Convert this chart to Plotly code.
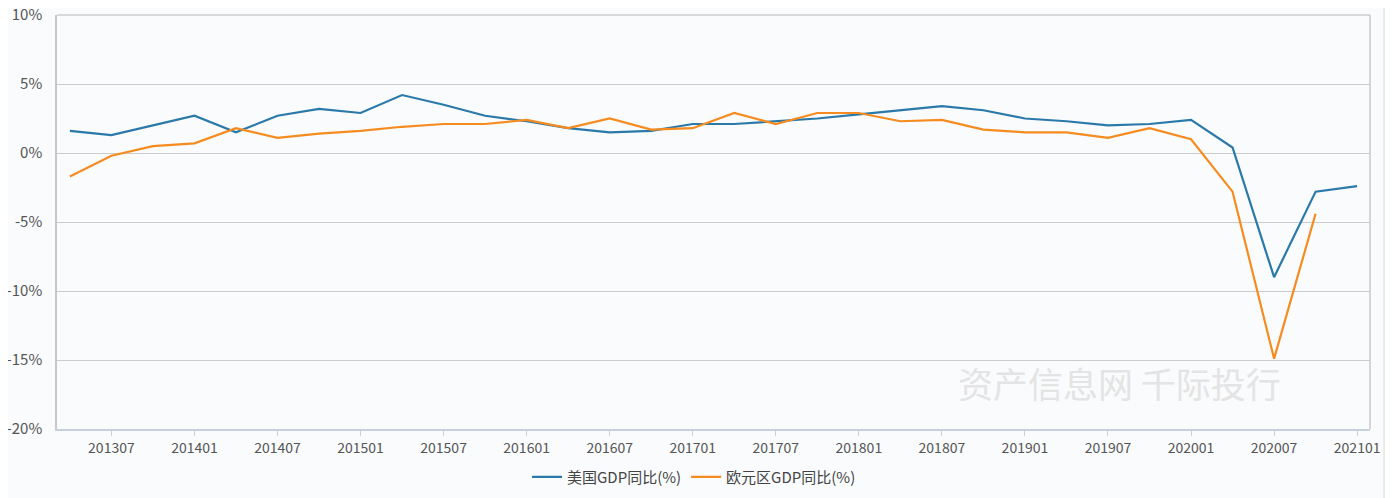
import plotly.graph_objects as go

quarters = ["201304", "201307", "201310", "201401", "201404", "201407", "201410",
            "201501", "201504", "201507", "201510", "201601", "201604", "201607",
            "201610", "201701", "201704", "201707", "201710", "201801", "201804",
            "201807", "201810", "201901", "201904", "201907", "201910", "202001",
            "202004", "202007", "202010", "202101"]

us_gdp_yoy = [1.6, 1.3, 2.0, 2.7, 1.5, 2.7, 3.2, 2.9, 4.2, 3.5, 2.7, 2.3, 1.8, 1.5,
              1.6, 2.1, 2.1, 2.3, 2.5, 2.8, 3.1, 3.4, 3.1, 2.5, 2.3, 2.0, 2.1, 2.4,
              0.4, -9.0, -2.8, -2.4]

ez_gdp_yoy = [-1.7, -0.2, 0.5, 0.7, 1.8, 1.1, 1.4, 1.6, 1.9, 2.1, 2.1, 2.4, 1.8, 2.5,
              1.7, 1.8, 2.9, 2.1, 2.9, 2.9, 2.3, 2.4, 1.7, 1.5, 1.5, 1.1, 1.8, 1.0,
              -2.8, -14.9, -4.4, None]

tick_labels = quarters[1::2]
y_ticks = [-20, -15, -10, -5, 0, 5, 10]
y_tick_text = [f"{v}%" for v in y_ticks]

FONT = "Noto Sans CJK SC"
BG = "#f9fbfd"

fig = go.Figure()
fig.add_trace(go.Scatter(x=quarters, y=us_gdp_yoy, mode="lines", name="美国GDP同比(%)",
                         line=dict(color="#2a79a9", width=2.2)))
fig.add_trace(go.Scatter(x=quarters, y=ez_gdp_yoy, mode="lines", name="欧元区GDP同比(%)",
                         line=dict(color="#f68b1f", width=2.2)))

fig.update_layout(
    width=1396, height=498,
    margin=dict(l=49, r=34, t=7, b=77, autoexpand=False),
    paper_bgcolor=BG, plot_bgcolor=BG,
    font=dict(family=FONT, size=14, color="#555"),
    showlegend=True,
    legend=dict(orientation="h", xref="container", x=0.4914, xanchor="center",
                yref="container", y=0.058, yanchor="middle",
                font=dict(family=FONT, size=15, color="#444"),
                bgcolor="rgba(0,0,0,0)", itemwidth=30, traceorder="normal"),
    xaxis=dict(type="category", range=[-0.31, 31.31], tickmode="array",
               tickvals=tick_labels, ticktext=tick_labels, automargin=False,
               showgrid=False, showline=True, linecolor="#c6d0dc", linewidth=2,
               ticks="outside", ticklen=5, tickcolor="#c6d0dc", tickwidth=1,
               tickfont=dict(family=FONT, size=14, color="#555"),
               ticklabeloverflow="allow",
               zeroline=False, mirror=False),
    yaxis=dict(range=[-20, 10], tickmode="array", tickvals=y_ticks,
               ticktext=y_tick_text, automargin=False,
               showgrid=True, gridcolor="#cccccc", gridwidth=1,
               showline=True, linecolor="#c8c8c8", linewidth=1.5,
               zeroline=False, ticks="", ticklabelstandoff=10,
               ticklabeloverflow="allow",
               tickfont=dict(family=FONT, size=15, color="#555")),
    shapes=[
        dict(type="line", xref="paper", yref="paper", x0=0, x1=1, y0=1, y1=1,
             line=dict(color="#cccccc", width=1.5)),
        dict(type="line", xref="paper", yref="paper", x0=1, x1=1, y0=0, y1=1,
             line=dict(color="#c8c8c8", width=1.5)),
        dict(type="rect", xref="paper", yref="paper", x0=1.0107, x1=1.03,
             y0=-0.2, y1=1.05, fillcolor="#ffffff", line=dict(width=0), layer="below"),
        dict(type="line", xref="paper", yref="paper", x0=1.0107, x1=1.0107,
             y0=-0.17, y1=1.03, line=dict(color="#d8d8d8", width=1)),
    ],
    annotations=[
        dict(text="资产信息网 千际投行", xref="paper", yref="paper", x=0.8095, y=0.1135,
             xanchor="center", yanchor="middle", showarrow=False,
             font=dict(family=FONT, size=35, color="#e4e4e4")),
    ],
)

fig.write_html("out.html")
